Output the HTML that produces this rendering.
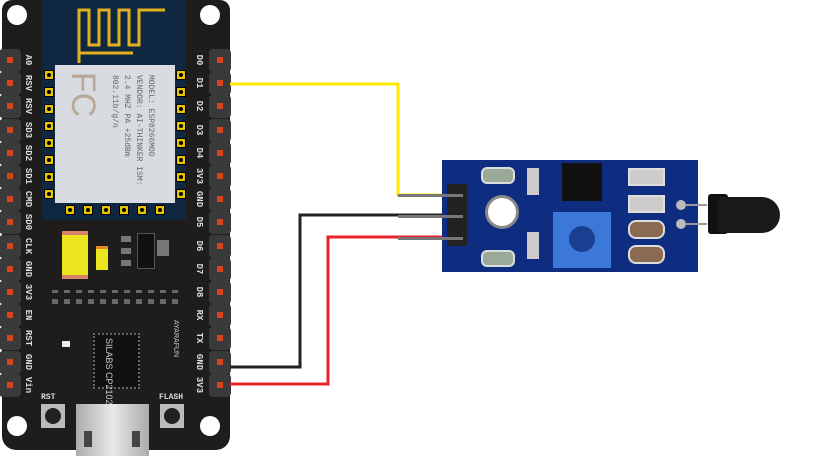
<!DOCTYPE html>
<html><head><style>
body{margin:0;width:834px;height:456px;background:#fff;position:relative;overflow:hidden;font-family:"Liberation Mono",monospace}
.a{position:absolute}
.pin{position:absolute;width:22px;height:23px;background:#3a3a3a;border-radius:4px}
.pin i{position:absolute;left:8px;top:8px;width:6px;height:6px;background:#d8441c}
.lbl{position:absolute;color:#ddd;font-size:9px;transform:rotate(90deg);transform-origin:center;width:30px;text-align:center;font-weight:bold}
.pad{position:absolute;width:8px;height:8px;background:#e8c400;border:1px solid #000}
.pad::after{content:"";position:absolute;left:2px;top:2px;width:4px;height:4px;background:#000;border-radius:50%}
</style></head><body>
<!-- NodeMCU board -->
<div class="a" style="left:2px;top:0;width:228px;height:450px;background:#1e1d1c;border-radius:10px 10px 14px 14px"></div>
<div class="a" style="left:42px;top:0;width:144px;height:220px;background:#0f2740"></div>
<svg class="a" style="left:75px;top:5px" width="95" height="60"><path d="M4 58 V5 H14 V40 H24 V5 H34 V40 H44 V5 H54 V40 H64 V5 H90 M4 48 H58" fill="none" stroke="#e0b020" stroke-width="3"/></svg>
<div class="a" style="left:55px;top:65px;width:120px;height:138px;background:#d8dbdf"></div>
<div class="a" style="left:116px;top:75px;width:40px;height:120px;color:#666;font-size:8px;writing-mode:vertical-rl;line-height:12px">MODEL: ESP8266MOD VENDOR: AI-THINKER ISM: 2.4 MHZ PA +25dBm 802.11b/g/n</div>
<div class="a" style="left:60px;top:75px;color:#b8a89a;font-size:34px;font-family:'Liberation Sans';transform:rotate(90deg)">FC</div>
<div class="pad" style="left:44px;top:70px"></div><div class="pad" style="left:44px;top:87px"></div><div class="pad" style="left:44px;top:104px"></div><div class="pad" style="left:44px;top:121px"></div><div class="pad" style="left:44px;top:138px"></div><div class="pad" style="left:44px;top:155px"></div><div class="pad" style="left:44px;top:172px"></div><div class="pad" style="left:44px;top:189px"></div>
<div class="pad" style="left:176px;top:70px"></div><div class="pad" style="left:176px;top:87px"></div><div class="pad" style="left:176px;top:104px"></div><div class="pad" style="left:176px;top:121px"></div><div class="pad" style="left:176px;top:138px"></div><div class="pad" style="left:176px;top:155px"></div><div class="pad" style="left:176px;top:172px"></div><div class="pad" style="left:176px;top:189px"></div>
<div class="pad" style="left:65px;top:205px"></div><div class="pad" style="left:83px;top:205px"></div><div class="pad" style="left:101px;top:205px"></div><div class="pad" style="left:119px;top:205px"></div><div class="pad" style="left:137px;top:205px"></div><div class="pad" style="left:155px;top:205px"></div>
<div class="a" style="left:7px;top:5px;width:20px;height:20px;border-radius:50%;background:#fff"></div>
<div class="a" style="left:200px;top:5px;width:20px;height:20px;border-radius:50%;background:#fff"></div>
<div class="a" style="left:7px;top:416px;width:20px;height:20px;border-radius:50%;background:#fff"></div>
<div class="a" style="left:200px;top:416px;width:20px;height:20px;border-radius:50%;background:#fff"></div>
<div class="a" style="left:62px;top:231px;width:26px;height:40px;background:#ebe51e;border-top:4px solid #d9826a;border-bottom:4px solid #d9826a"></div>
<div class="a" style="left:96px;top:246px;width:12px;height:21px;background:#ebe51e;border-top:3px solid #e08a20"></div>
<div class="a" style="left:137px;top:233px;width:16px;height:34px;background:#111;border:1px solid #555"></div>
<div class="a" style="left:121px;top:236px;width:10px;height:30px;background:repeating-linear-gradient(#777 0 6px,transparent 6px 12px)"></div>
<div class="a" style="left:157px;top:240px;width:12px;height:16px;background:#777"></div>
<div class="a" style="left:52px;top:290px;width:130px;height:14px;background:repeating-linear-gradient(90deg,#6a6a6a 0 6px,transparent 6px 12px);-webkit-mask:linear-gradient(#000 0 3px,transparent 3px 9px,#000 9px)"></div>
<div class="a" style="left:93px;top:333px;width:43px;height:52px;background:#111;border:2px dotted #666"></div>
<div class="a" style="left:103px;top:338px;color:#ccc;font-size:9px;font-family:'Liberation Sans';writing-mode:vertical-rl;line-height:11px">SILABS CP2102</div>
<div class="a" style="left:172px;top:320px;color:#ccc;font-size:7px;writing-mode:vertical-rl;font-family:'Liberation Sans'">AYARAFUN</div>
<div class="a" style="left:62px;top:341px;width:8px;height:6px;background:#eee"></div>
<div class="a" style="left:41px;top:393px;color:#ddd;font-size:8px;font-weight:bold">RST</div>
<div class="a" style="left:159px;top:393px;color:#ddd;font-size:8px;font-weight:bold">FLASH</div>
<div class="a" style="left:41px;top:404px;width:24px;height:24px;background:#bbb"><div class="a" style="left:4px;top:4px;width:16px;height:16px;border-radius:50%;background:#222"></div></div>
<div class="a" style="left:160px;top:404px;width:24px;height:24px;background:#bbb"><div class="a" style="left:4px;top:4px;width:16px;height:16px;border-radius:50%;background:#222"></div></div>
<div class="a" style="left:76px;top:404px;width:73px;height:52px;background:linear-gradient(90deg,#a9abad,#e8e9ea,#a9abad)"></div>
<div class="a" style="left:84px;top:431px;width:8px;height:16px;background:#444"></div>
<div class="a" style="left:132px;top:431px;width:8px;height:16px;background:#444"></div>
<div id="pins"></div>
<svg class="a" style="left:0;top:0" width="834" height="456">
<polyline points="230,84 398,84 398,195 450,195" fill="none" stroke="#ffe900" stroke-width="3"/>
<polyline points="230,367 300,367 300,215 450,215" fill="none" stroke="#222" stroke-width="3"/>
<polyline points="230,384 328,384 328,237 450,237" fill="none" stroke="#e8232a" stroke-width="3"/>
</svg>
<div class="a" style="left:442px;top:160px;width:256px;height:112px;background:#0e2c80"></div>
<div class="a" style="left:447px;top:184px;width:20px;height:62px;background:#222"></div>
<div class="a" style="left:398px;top:194px;width:65px;height:3px;background:#777"></div>
<div class="a" style="left:398px;top:215px;width:65px;height:3px;background:#777"></div>
<div class="a" style="left:398px;top:237px;width:65px;height:3px;background:#777"></div>
<div class="a" style="left:485px;top:195px;width:28px;height:28px;border-radius:50%;background:#fff;border:3px solid #888"></div>
<div class="a" style="left:562px;top:163px;width:40px;height:38px;background:#111"></div>
<div class="a" style="left:553px;top:212px;width:58px;height:56px;background:#3b78d8"><div class="a" style="left:16px;top:14px;width:26px;height:26px;border-radius:50%;background:#1a3f90"></div></div>
<div class="a" style="left:481px;top:167px;width:30px;height:13px;background:#9a9;border:2px solid #ddd;border-radius:6px"></div>
<div class="a" style="left:481px;top:250px;width:30px;height:13px;background:#9a9;border:2px solid #ddd;border-radius:6px"></div>
<div class="a" style="left:527px;top:168px;width:12px;height:27px;background:#ccc"></div>
<div class="a" style="left:527px;top:232px;width:12px;height:27px;background:#ccc"></div>
<div class="a" style="left:628px;top:168px;width:33px;height:14px;background:#ccc;border:2px solid #ddd"></div>
<div class="a" style="left:628px;top:195px;width:33px;height:14px;background:#ccc;border:2px solid #ddd"></div>
<div class="a" style="left:628px;top:220px;width:33px;height:15px;border:2px solid #ddd;border-radius:8px;background:#8a6a50"></div>
<div class="a" style="left:628px;top:245px;width:33px;height:15px;border:2px solid #ddd;border-radius:8px;background:#8a6a50"></div>
<div class="a" style="left:676px;top:200px;width:10px;height:10px;border-radius:50%;background:#bbb"></div>
<div class="a" style="left:676px;top:219px;width:10px;height:10px;border-radius:50%;background:#bbb"></div>
<div class="a" style="left:685px;top:204px;width:22px;height:2px;background:#999"></div>
<div class="a" style="left:685px;top:223px;width:22px;height:2px;background:#999"></div>
<div class="a" style="left:708px;top:194px;width:20px;height:40px;background:#111;border-radius:3px"></div>
<div class="a" style="left:718px;top:197px;width:62px;height:36px;background:#1a1a1a;border-radius:4px 18px 18px 4px"></div>
<script>
var L=["A0","RSV","RSV","SD3","SD2","SD1","CMD","SD0","CLK","GND","3V3","EN","RST","GND","Vin"],R=["D0","D1","D2","D3","D4","3V3","GND","D5","D6","D7","D8","RX","TX","GND","3V3"],h="";
for(var i=0;i<15;i++){var y=49+i*23.2;h+='<div class="pin" style="left:-1px;top:'+y+'px"><i></i></div><div class="pin" style="left:209px;top:'+y+'px"><i></i></div><div class="lbl" style="left:13px;top:'+(y+6)+'px">'+L[i]+'</div><div class="lbl" style="left:184px;top:'+(y+6)+'px">'+R[i]+'</div>';}
document.getElementById("pins").innerHTML=h;
</script>
</body></html>
